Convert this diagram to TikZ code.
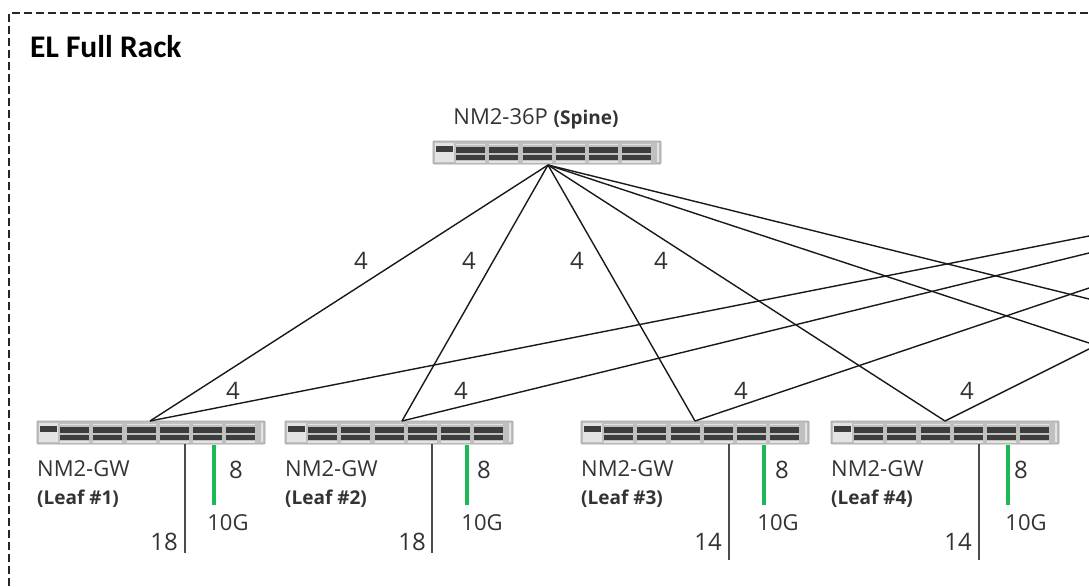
\documentclass[tikz,border=0pt]{standalone}
\usepackage{fontspec}
\setmainfont{Open Sans}
\newfontfamily\calib{Carlito}
\definecolor{swbody}{HTML}{BFC1BE}
\definecolor{swport}{HTML}{3C3C3C}
\definecolor{swgreen}{HTML}{1DB954}
\tikzset{
  x=1pt,y=-1pt,
  swbox/.style={draw=swbody!85!black,line width=.8pt,fill=swbody,minimum width=228pt,minimum height=23pt,inner sep=0pt,outer sep=0pt,rounded corners=1pt},
  swrow/.style={fill=swport,draw=none},
  swlight/.style={fill=swbody!45!white,draw=none},
  link/.style={draw=black!90,line width=1.4pt},
  uplink/.style={draw=black!70,line width=1.9pt},
  tengig/.style={draw=swgreen,line width=3.3pt},
  border/.style={draw=black!85,line width=1.4pt,dash pattern=on 8pt off 4pt},
  lbl/.style={font=\fontsize{22}{25}\selectfont,text=black!80,inner sep=0pt},
  tag/.style={font=\bfseries\fontsize{19}{22}\selectfont,text=black!80,inner sep=0pt},
  count/.style={font=\fontsize{24}{28}\selectfont,text=black!80,inner sep=0pt},
  small/.style={font=\fontsize{22}{25}\selectfont,text=black!80,inner sep=0pt},
  title/.style={font=\calib\bfseries\fontsize{31.5}{36}\selectfont,text=black,inner sep=0pt,anchor=west},
}
\newcommand{\switchicon}[3]{%
  \node[swbox] (#1) at (#2,#3) {};
  \begin{scope}[shift={(#1.north west)}]
    \fill[swlight] (2,2) rectangle (21,21);
    \fill[swrow] (3,5) rectangle (20,11);
    \foreach \gx in {23,56,90,123,156,189}{
      \fill[swrow] (\gx,6) rectangle (\gx+29,11.5);
      \fill[swrow] (\gx,14) rectangle (\gx+29,19);
      \fill[swlight] (\gx,2.5) rectangle (\gx+29,4);
      \fill[swlight] (\gx,20) rectangle (\gx+29,21.5);
    }
    \fill[swlight] (224,2) rectangle (226,21);
  \end{scope}
}
\begin{document}
\begin{tikzpicture}
\useasboundingbox (0,0) rectangle (1089,586);
\coordinate (bl) at (9,586);
\coordinate (tl) at (9,13);
\coordinate (tr) at (1089,13);
\draw[border] (bl) -- (tl) -- (tr);
\node[title] (ttl) at (30,47) {EL Full Rack};

\switchicon{spine}{547}{152.5}
\switchicon{leafa}{151}{432.5}
\switchicon{leafb}{399}{432.5}
\switchicon{leafc}{695}{432.5}
\switchicon{leafd}{945}{432.5}

\node[lbl,anchor=center] (spinelbl) at (536,119) {NM2-36P {\bfseries\fontsize{19}{22}\selectfont (Spine)}};

% links
\coordinate (sp) at (548,165);
\coordinate (la) at (150,421);
\coordinate (lb) at (402,421);
\coordinate (lc) at (695,421);
\coordinate (ld) at (945,421);
\coordinate (ra) at (1089,236);
\coordinate (rb) at (1089,253);
\coordinate (rc) at (1089,288);
\coordinate (rd) at (1089,349);
\coordinate (re) at (1089,299);
\coordinate (rf) at (1089,343);
\draw[link] (sp) -- (la);
\draw[link] (sp) -- (lb);
\draw[link] (sp) -- (lc);
\draw[link] (sp) -- (ld);
\draw[link] (sp) -- (re);
\draw[link] (sp) -- (rf);
\draw[link] (la) -- (ra);
\draw[link] (lb) -- (rb);
\draw[link] (lc) -- (rc);
\draw[link] (ld) -- (rd);

% link counts
\node[count] (u1) at (361,261) {4};
\node[count] (u2) at (469,261) {4};
\node[count] (u3) at (577,261) {4};
\node[count] (u4) at (661,261) {4};
\node[count] (d1) at (233,391) {4};
\node[count] (d2) at (461,391) {4};
\node[count] (d3) at (741,391) {4};
\node[count] (d4) at (967,391) {4};

% leaf 1
\node[lbl,anchor=west] (n1) at (37,469) {NM2-GW};
\node[tag,anchor=west] (m1) at (37,499) {(Leaf \#1)};
\coordinate (b1) at (185,553); \coordinate (bt1) at (185,444);
\coordinate (g1) at (214,505); \coordinate (gt1) at (214,445);
\draw[uplink] (bt1) -- (b1);
\draw[tengig] (gt1) -- (g1);
\node[count] (e1) at (236,470) {8};
\node[small] (t1) at (228,523) {10G};
\node[count] (c1) at (164,542) {18};
% leaf 2
\node[lbl,anchor=west] (n2) at (285,469) {NM2-GW};
\node[tag,anchor=west] (m2) at (285,499) {(Leaf \#2)};
\coordinate (b2) at (432,553); \coordinate (bt2) at (432,444);
\coordinate (g2) at (467,505); \coordinate (gt2) at (467,445);
\draw[uplink] (bt2) -- (b2);
\draw[tengig] (gt2) -- (g2);
\node[count] (e2) at (484,470) {8};
\node[small] (t2) at (482,523) {10G};
\node[count] (c2) at (412,542) {18};
% leaf 3
\node[lbl,anchor=west] (n3) at (581,469) {NM2-GW};
\node[tag,anchor=west] (m3) at (581,499) {(Leaf \#3)};
\coordinate (b3) at (729,560); \coordinate (bt3) at (729,444);
\coordinate (g3) at (764,505); \coordinate (gt3) at (764,445);
\draw[uplink] (bt3) -- (b3);
\draw[tengig] (gt3) -- (g3);
\node[count] (e3) at (782,470) {8};
\node[small] (t3) at (778,523) {10G};
\node[count] (c3) at (708,542) {14};
% leaf 4
\node[lbl,anchor=west] (n4) at (831,469) {NM2-GW};
\node[tag,anchor=west] (m4) at (831,499) {(Leaf \#4)};
\coordinate (b4) at (979,560); \coordinate (bt4) at (979,444);
\coordinate (g4) at (1008,505); \coordinate (gt4) at (1008,445);
\draw[uplink] (bt4) -- (b4);
\draw[tengig] (gt4) -- (g4);
\node[count] (e4) at (1021,470) {8};
\node[small] (t4) at (1026,523) {10G};
\node[count] (c4) at (958,542) {14};
\end{tikzpicture}
\end{document}
